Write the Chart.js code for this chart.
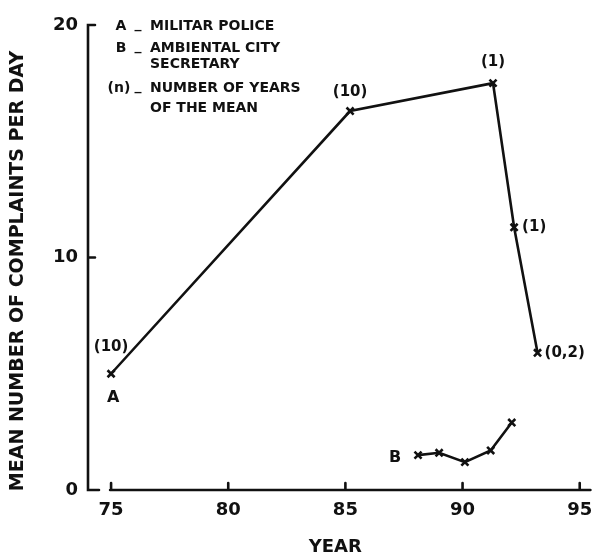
<!DOCTYPE html>
<html>
<head>
<meta charset="utf-8">
<script src="https://cdn.jsdelivr.net/npm/chart.js@4.4.1/dist/chart.umd.min.js"></script>
<style>
    html, body { margin: 0; padding: 0; background: #fff; }
    #wrap { width: 592px; height: 556px; }
</style>
</head>
<body>
<div id="wrap"><canvas id="complaintsChart" width="592" height="556"></canvas></div>
<script>
// data
const yearsA = [75, 85.2, 91.3, 92.2, 93.2];
const complaintsA = [5.0, 16.3, 17.5, 11.3, 5.9];
const nYearsA = ['(10)', '(10)', '(1)', '(1)', '(0,2)'];

const yearsB = [88.1, 89.0, 90.1, 91.2, 92.1];
const complaintsB = [1.5, 1.6, 1.2, 1.7, 2.9];

const xTicks = [75, 80, 85, 90, 95];
const yTicks = [0, 10, 20];

const legendKeys = ['A', 'B', '', '(n)', ''];
const legendTexts = ['MILITAR POLICE', 'AMBIENTAL CITY', 'SECRETARY', 'NUMBER OF YEARS', 'OF THE MEAN'];

const yTitle = 'MEAN NUMBER OF COMPLAINTS PER DAY';

const INK = '#111';
const FONT = "'DejaVu Sans', sans-serif";

const toPoints = (xs, ys) => xs.map((x, i) => ({ x: x, y: ys[i] }));

// hand-drawn looking axes, ticks pointing inward
const axesPlugin = {
    id: 'axes',
    beforeDatasetsDraw(chart) {
        const { ctx, chartArea, scales } = chart;
        const x = scales.x, y = scales.y;
        const x0 = chartArea.left + 2;
        const yTop = y.getPixelForValue(20);
        const yBot = y.getPixelForValue(0);
        ctx.save();
        ctx.strokeStyle = INK;
        ctx.lineWidth = 2.6;
        ctx.lineCap = 'round';
        ctx.beginPath();
        ctx.moveTo(x0 + 7, yTop);
        ctx.lineTo(x0, yTop);
        ctx.lineTo(x0, yBot);
        ctx.lineTo(x0 + 11, yBot);
        yTicks.forEach((v) => {
            if (v === 0 || v === 20) return;
            const py = y.getPixelForValue(v);
            ctx.moveTo(x0, py);
            ctx.lineTo(x0 + 7, py);
        });
        ctx.moveTo(x.getPixelForValue(75) - 1, yBot);
        ctx.lineTo(chartArea.right + 6, yBot);
        xTicks.forEach((v) => {
            const px = x.getPixelForValue(v);
            ctx.moveTo(px, yBot);
            ctx.lineTo(px, yBot - 7);
        });
        ctx.stroke();
        ctx.restore();
    },
    afterDraw(chart) {
        const { ctx, scales } = chart;
        const x = scales.x, y = scales.y;
        ctx.save();
        ctx.fillStyle = INK;
        ctx.textBaseline = 'middle';

        // y title, sits a bit lower than the plot centre
        ctx.save();
        ctx.translate(18, 271);
        ctx.rotate(-Math.PI / 2);
        ctx.textAlign = 'center';
        ctx.font = 'bold 19px ' + FONT;
        ctx.fillText(yTitle, 0, 0);
        ctx.restore();

        // legend block in the top left
        ctx.font = 'bold 14px ' + FONT;
        const rowY = [26, 48, 64, 88, 108];
        legendTexts.forEach((t, i) => {
            if (legendKeys[i]) {
                ctx.textAlign = 'center';
                ctx.fillText(legendKeys[i], legendKeys[i].length > 1 ? 119 : 121, rowY[i]);
                ctx.fillText('_', 138, rowY[i] - 2);
            }
            ctx.textAlign = 'left';
            ctx.fillText(t, 150, rowY[i]);
        });

        // "(n)" labels next to the A points
        ctx.font = 'bold 15px ' + FONT;
        const offs = [[0, -27, 'center'], [0, -19, 'center'], [0, -21, 'center'], [8, 0, 'left'], [7, 0, 'left']];
        nYearsA.forEach((t, i) => {
            const px = x.getPixelForValue(yearsA[i]);
            const py = y.getPixelForValue(complaintsA[i]);
            ctx.textAlign = offs[i][2];
            ctx.fillText(t, px + offs[i][0], py + offs[i][1]);
        });

        // series letters
        ctx.font = 'bold 16px ' + FONT;
        ctx.textAlign = 'center';
        ctx.fillText('A', x.getPixelForValue(yearsA[0]) + 2, y.getPixelForValue(complaintsA[0]) + 24);
        ctx.fillText('B', x.getPixelForValue(yearsB[0]) - 23, y.getPixelForValue(complaintsB[0]) + 3);
        ctx.restore();
    }
};

const lineStyle = {
    showLine: true,
    borderColor: INK,
    borderWidth: 2.6,
    pointStyle: 'crossRot',
    pointRadius: 5,
    pointBorderColor: INK,
    pointBorderWidth: 2.6,
    tension: 0,
    clip: false
};

new Chart(document.getElementById('complaintsChart').getContext('2d'), {
    type: 'scatter',
    data: {
        datasets: [
            Object.assign({ label: 'A - Militar Police', data: toPoints(yearsA, complaintsA) }, lineStyle),
            Object.assign({ label: 'B - Ambiental City Secretary', data: toPoints(yearsB, complaintsB) }, lineStyle)
        ]
    },
    options: {
        responsive: false,
        animation: false,
        layout: { padding: { top: 25, right: 7, bottom: 0, left: 0 } },
        plugins: {
            legend: { display: false },
            tooltip: { enabled: false }
        },
        scales: {
            x: {
                type: 'linear',
                min: 73.93,
                max: 95.2,
                grid: { display: false, drawTicks: false },
                border: { display: false },
                afterBuildTicks: (scale) => { scale.ticks = xTicks.map((v) => ({ value: v })); },
                afterFit: (scale) => { scale.height = 66; scale.paddingLeft = 0; scale.paddingRight = 0; },
                ticks: {
                    padding: 10,
                    color: INK,
                    maxRotation: 0,
                    font: { family: FONT, size: 18, weight: 'bold' }
                },
                title: {
                    display: true,
                    text: 'YEAR',
                    color: INK,
                    padding: { top: 0, bottom: 0 },
                    font: { family: FONT, size: 18, weight: 'bold', lineHeight: 1 }
                }
            },
            y: {
                min: 0,
                max: 20,
                grid: { display: false, drawTicks: false },
                border: { display: false },
                afterBuildTicks: (scale) => { scale.ticks = yTicks.map((v) => ({ value: v })); },
                afterFit: (scale) => { scale.width = 86; scale.paddingTop = 0; scale.paddingBottom = 0; },
                ticks: {
                    padding: 8,
                    color: INK,
                    font: { family: FONT, size: 18, weight: 'bold' }
                },
                title: { display: false }
            }
        }
    },
    plugins: [axesPlugin]
});
</script>
</body>
</html>
